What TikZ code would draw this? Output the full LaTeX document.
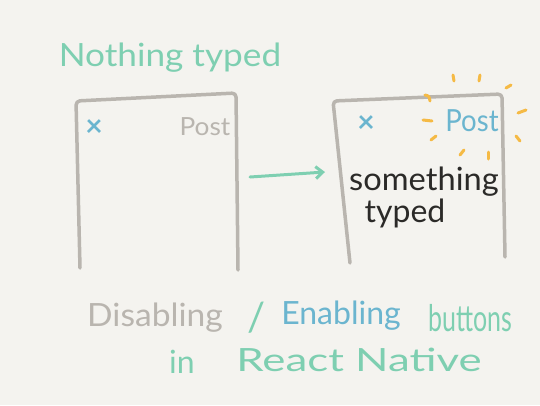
\documentclass[tikz,border=0pt]{standalone}
\usepackage{fontspec}
\setmainfont{Lato}
\usetikzlibrary{arrows.meta}
\definecolor{bg}{HTML}{F4F3EF}
\definecolor{boxgray}{HTML}{B9B5AF}
\definecolor{mint}{HTML}{7ECFB1}
\definecolor{sky}{HTML}{6BB5CF}
\definecolor{sun}{HTML}{F5BA45}
\definecolor{ink}{HTML}{2B2A28}
\tikzset{
  frame/.style={draw=boxgray, line width=3.5pt, line cap=round, line join=round, rounded corners=4pt},
  ray/.style={draw=sun, line width=3pt, line cap=round},
  big/.style={font=\fontsize{32}{34}\selectfont, inner sep=0pt},
  mid/.style={font=\fontsize{29}{31}\selectfont, inner sep=0pt},
  small/.style={font=\fontsize{25}{27}\selectfont, inner sep=0pt},
  cross/.style={font=\bfseries\fontsize{30}{30}\selectfont, inner sep=0pt},
  flow/.style={draw=mint, line width=3pt, line cap=round, -{Straight Barb[length=7pt,width=12pt,line width=3pt]}}
}
\begin{document}
\begin{tikzpicture}[x=1pt,y=-1pt]
\fill[bg] (0,0) rectangle (540,405);
\useasboundingbox (0,0) rectangle (540,405);

% title
\node[big, text=mint] (title) at (170,58) {\scalebox{1.1}[1]{Nothing typed}};

% left box
\draw[frame] (80,268) -- (76,101) -- (236,93) -- (238,270);
\node[cross, text=sky] (xl) at (94,128) {×};
\node[small, text=boxgray] (postl) at (205,127) {\scalebox{1.05}[1]{Post}};

% right box
\draw[frame] (350,263) -- (333,101) -- (502,94) -- (505,257);
\node[cross, text=sky] (xr) at (366,124) {×};
\node[mid, text=sky] (postr) at (472,121) {\scalebox{0.95}[1.05]{Post}};
\node[big, text=ink] (some) at (424,182) {\scalebox{1.02}[1]{something}};
\node[big, text=ink] (typed) at (405,213) {typed};

% rays around Post
\draw[ray] (453,75) -- (454,81);
\draw[ray] (480,75) -- (479,81);
\draw[ray] (506,88) -- (511,85);
\draw[ray] (518,113) -- (526,110);
\draw[ray] (516,136) -- (520,141);
\draw[ray] (488,152) -- (488,159);
\draw[ray] (460,155) -- (464,150);
\draw[ray] (431,140) -- (436,136);
\draw[ray] (423,120) -- (432,121);
\draw[ray] (425,95) .. controls (429,96) .. (430,101);

% arrow
\coordinate (a1) at (250,177);
\coordinate (a2) at (325,172);
\draw[flow] (a1) -- (a2);

% bottom caption
\node[big, text=boxgray] (dis) at (155,318) {\scalebox{1.05}[1]{Disabling}};
\node[big, text=mint, font=\fontsize{40}{40}\selectfont] (slash) at (257,318) {/};
\node[big, text=sky] (en) at (341,316) {Enabling};
\node[big, text=mint] (btn) at (470,318) {\scalebox{0.78}[1.15]{buttons}};
\node[big, text=mint] (in) at (182,362) {in};
\node[big, text=mint] (rn) at (359,360) {\scalebox{1.37}[1]{React Native}};
\end{tikzpicture}
\end{document}
